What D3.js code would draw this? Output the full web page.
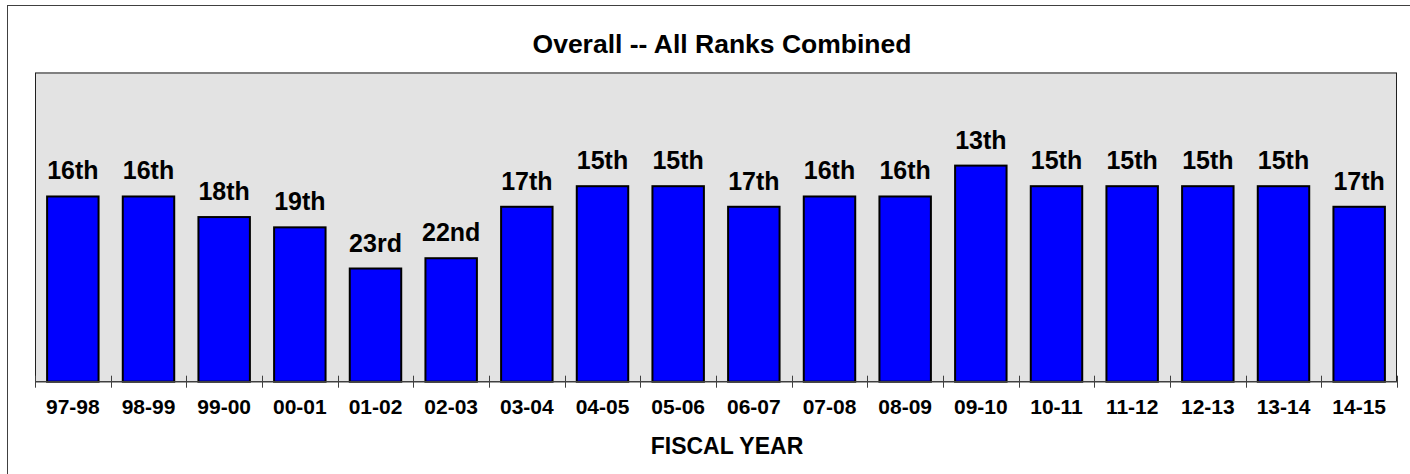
<!DOCTYPE html>
<html>
<head>
<meta charset="utf-8">
<script src="https://cdn.jsdelivr.net/npm/d3@7/dist/d3.min.js"></script>
<style>
  html, body { margin: 0; padding: 0; background: #fff; }
  svg { display: block; font-family: "Liberation Sans", Arial, sans-serif; }
</style>
</head>
<body>
<svg id="chart" width="1410" height="474"></svg>
<script>
const categories = ["97-98","98-99","99-00","00-01","01-02","02-03","03-04","04-05","05-06","06-07","07-08","08-09","09-10","10-11","11-12","12-13","13-14","14-15"];
const ranks = [16,16,18,19,23,22,17,15,15,17,16,16,13,15,15,15,15,17];
const rankLabels = ["16th","16th","18th","19th","23rd","22nd","17th","15th","15th","17th","16th","16th","13th","15th","15th","15th","15th","17th"];
const title = "Overall -- All Ranks Combined";
const xTitle = "FISCAL YEAR";

const svg = d3.select("#chart");
const W = 1410, H = 474;
const plot = { left: 35, right: 1397, top: 73, bottom: 381.7 };

// outer frame
svg.append("rect").attr("x", 7.5).attr("y", 5.5).attr("width", W).attr("height", H)
  .attr("fill", "#fff").attr("stroke", "#404040").attr("stroke-width", 1);

// plot area
svg.append("rect").attr("x", plot.left).attr("y", plot.top)
  .attr("width", plot.right - plot.left).attr("height", plot.bottom - plot.top)
  .attr("fill", "#e3e3e3");
svg.append("line").attr("x1", plot.left).attr("x2", plot.right).attr("y1", plot.top).attr("y2", plot.top)
  .attr("stroke", "#808080").attr("stroke-width", 2);
svg.append("line").attr("x1", plot.left + 0.5).attr("x2", plot.left + 0.5).attr("y1", plot.top).attr("y2", plot.bottom)
  .attr("stroke", "#202020").attr("stroke-width", 1);
svg.append("line").attr("x1", plot.right - 0.5).attr("x2", plot.right - 0.5).attr("y1", plot.top).attr("y2", plot.bottom)
  .attr("stroke", "#202020").attr("stroke-width", 1);

const xSlots = d3.scaleBand().domain(categories).range([plot.left, plot.right]).padding(0);
const x = d3.scaleBand().domain(categories).range([plot.left, plot.right]).paddingInner(0.32).paddingOuter(0.16);
const y = d3.scaleLinear().domain([34, 4]).range([plot.bottom, plot.top]);

// bars
svg.append("g").selectAll("rect").data(categories).join("rect")
  .attr("x", d => x(d))
  .attr("y", (d, i) => y(ranks[i]))
  .attr("width", x.bandwidth())
  .attr("height", (d, i) => plot.bottom - y(ranks[i]))
  .attr("fill", "#0000ff")
  .attr("stroke", "#000")
  .attr("stroke-width", 2);

// value labels
svg.append("g").selectAll("text").data(categories).join("text")
  .attr("x", d => x(d) + x.bandwidth() / 2)
  .attr("y", (d, i) => y(ranks[i]) - 17)
  .attr("text-anchor", "middle")
  .attr("font-size", 25).attr("font-weight", "bold").attr("fill", "#000")
  .text((d, i) => rankLabels[i]);

// x axis
const axisG = svg.append("g").attr("transform", `translate(0,${plot.bottom})`);
axisG.append("line").attr("x1", plot.left).attr("x2", plot.right).attr("y1", 0).attr("y2", 0)
  .attr("stroke", "#404040").attr("stroke-width", 1.5);
const tickPos = categories.map(d => xSlots(d)).concat([plot.right]);
axisG.selectAll("line.tick").data(tickPos).join("line").attr("class", "tick")
  .attr("x1", d => Math.round(d) + 0.5).attr("x2", d => Math.round(d) + 0.5)
  .attr("y1", -6).attr("y2", 6)
  .attr("stroke", "#404040").attr("stroke-width", 1);
axisG.selectAll("text").data(categories).join("text")
  .attr("x", d => xSlots(d) + xSlots.bandwidth() / 2)
  .attr("y", 32.5)
  .attr("text-anchor", "middle")
  .attr("font-size", 21).attr("font-weight", "bold").attr("fill", "#000")
  .text(d => d);

// titles
svg.append("text").attr("x", 722).attr("y", 53.3)
  .attr("text-anchor", "middle").attr("font-size", 26.5).attr("font-weight", "bold")
  .text(title);
svg.append("text").attr("x", 727).attr("y", 454.3)
  .attr("text-anchor", "middle").attr("font-size", 23).attr("font-weight", "bold")
  .text(xTitle);
</script>
</body>
</html>
